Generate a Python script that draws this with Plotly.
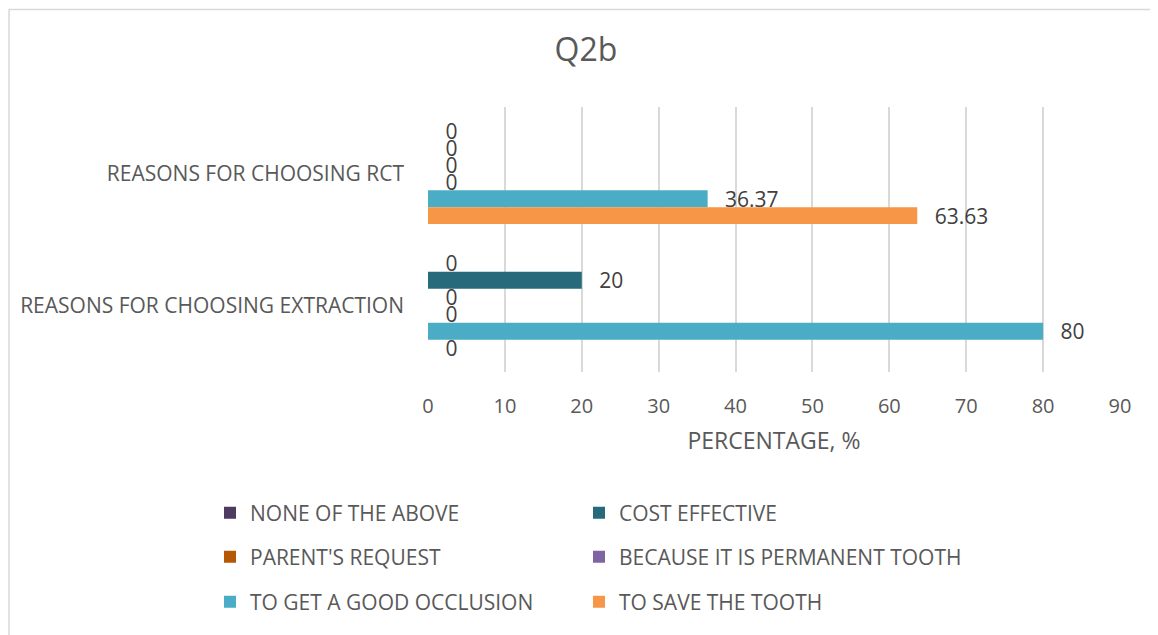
import plotly.graph_objects as go

categories = ["REASONS FOR CHOOSING RCT", "REASONS FOR CHOOSING EXTRACTION"]
series_names = [
    "NONE OF THE ABOVE",
    "COST EFFECTIVE",
    "PARENT'S REQUEST",
    "BECAUSE IT IS PERMANENT TOOTH",
    "TO GET A GOOD OCCLUSION",
    "TO SAVE THE TOOTH",
]
none_vals = [0, 0]
cost_vals = [0, 20]
parent_vals = [0, 0]
permanent_vals = [0, 0]
occlusion_vals = [36.37, 80]
save_vals = [63.63, 0]
colors = ["#4D3B62", "#276A7C", "#B65708", "#8064A2", "#4BACC6", "#F79646"]
x_ticks = [0, 10, 20, 30, 40, 50, 60, 70, 80, 90]

all_vals = [none_vals, cost_vals, parent_vals, permanent_vals, occlusion_vals, save_vals]

W, H = 1158, 635
ML, MR, MT, MB = 420, 45.5, 98.5, 270.5
FONT = "Open Sans"
TXT = "#595959"

fig = go.Figure()
legend_ids = ["legend", "legend2", "legend3", "legend4", "legend5", "legend6"]
for name, vals, col, lid in zip(series_names, all_vals, colors, legend_ids):
    fig.add_trace(go.Bar(
        y=categories, x=vals, name=name, orientation="h",
        marker=dict(color=col, line=dict(width=0)),
        texttemplate="\u00a0\u00a0\u2009%{x}", textposition="outside",
        textfont=dict(family=FONT, size=21, color="#404040"),
        constraintext="none", cliponaxis=False,
        legend=lid,
    ))

# legend grid: 3 rows x 2 columns
leg_cols = [202, 571]
leg_rows = [505, 549, 594]
layout_legends = {}
for i, lid in enumerate(legend_ids):
    cx = leg_cols[i % 2]
    cy = leg_rows[i // 2]
    layout_legends[lid] = dict(
        xref="container", yref="container",
        x=cx / W, y=1 - cy / H, xanchor="left", yanchor="middle",
        font=dict(family=FONT, size=21, color=TXT),
        bgcolor="rgba(0,0,0,0)", borderwidth=0,
    )

pw = W - ML - MR
ph = H - MT - MB
fig.update_layout(
    width=W, height=H,
    margin=dict(l=ML, r=MR, t=MT, b=MB, autoexpand=False),
    paper_bgcolor="white", plot_bgcolor="white",
    barmode="group", bargap=0.233, bargroupgap=0,
    title=dict(text="Q2b", x=578 / W, xanchor="center", y=1 - 42 / H, yanchor="middle",
               font=dict(family=FONT, size=32, color=TXT)),
    font=dict(family=FONT, color=TXT),
    showlegend=True,
    xaxis=dict(
        range=[0, 90], tickvals=x_ticks, ticktext=[str(t) for t in x_ticks],
        showgrid=True, gridcolor="#D9D9D9", gridwidth=1.5,
        zeroline=False, showline=False, ticks="", automargin=False,
        ticklabelstandoff=20,
        tickfont=dict(family=FONT, size=20, color=TXT),
        title=dict(text="PERCENTAGE, %", font=dict(family=FONT, size=23, color=TXT), standoff=14),
    ),
    yaxis=dict(
        type="category", categoryorder="array", categoryarray=categories,
        autorange="reversed", showgrid=False, zeroline=False, showline=False, ticks="",
        automargin=False,
        tickfont=dict(family=FONT, size=21, color=TXT), ticklabelstandoff=23,
    ),
    shapes=[dict(type="rect", xref="paper", yref="paper",
                 x0=(0.75 - ML) / pw, x1=(W + 10 - ML) / pw,
                 y0=-(MB + 10) / ph, y1=1 + (MT - 0.75) / ph,
                 line=dict(color="#D9D9D9", width=1.5), layer="below")],
    **layout_legends,
)

fig.write_html("out.html")
